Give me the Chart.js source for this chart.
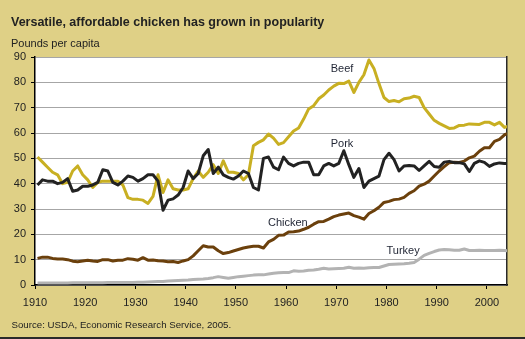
<!DOCTYPE html>
<html><head><meta charset="utf-8">
<script src="https://cdn.jsdelivr.net/npm/chart.js@4.4.0/dist/chart.umd.min.js"></script>
<style>html,body{margin:0;padding:0;background:#DFD086;}canvas{display:block}</style>
</head><body>
<canvas id="c" width="525" height="339"></canvas>
<script>
const years = [1910,1911,1912,1913,1914,1915,1916,1917,1918,1919,
1920,1921,1922,1923,1924,1925,1926,1927,1928,1929,
1930,1931,1932,1933,1934,1935,1936,1937,1938,1939,
1940,1941,1942,1943,1944,1945,1946,1947,1948,1949,
1950,1951,1952,1953,1954,1955,1956,1957,1958,1959,
1960,1961,1962,1963,1964,1965,1966,1967,1968,1969,
1970,1971,1972,1973,1974,1975,1976,1977,1978,1979,
1980,1981,1982,1983,1984,1985,1986,1987,1988,1989,
1990,1991,1992,1993,1994,1995,1996,1997,1998,1999,
2000,2001,2002,2003,2004];

const beef = [50.5,48.5,46.5,44.5,43.5,40,40.5,45,47,43.5,
41.5,38.5,40.5,41,41,41,41,39.5,34.5,33.8,
33.8,33.5,32.2,35,43.5,36.5,41.5,38,37.5,37.5,
38,42,45,42.5,44.5,47.5,44,49,44.5,44.5,
44,41.5,43.5,55,56.3,57.3,59.6,58,55.5,56.2,
58.5,60.8,62,65.5,69.5,70.8,73.5,75,77,78.5,
79.6,79.5,80.5,76,80,83,88.8,85.5,79.5,74,
72.4,72.8,72.3,73.5,73.8,74.5,74,70,67.5,65,
63.8,62.8,61.8,62,63,63.1,63.6,63.5,63.4,64.2,
64.2,63.2,64.2,62.2,62.8];

const pork = [39.5,41.5,41,41,40,40.5,42,37,37.5,39,
39,39.5,40.5,45.5,45,40.5,39.5,41,43,42.5,
41,42,43.5,43.5,41,29.5,33.5,34,35.5,38.5,
45,42,44,51,53.5,44,46.5,43.5,42.5,41.8,
43,45,44,38.5,37.5,50,50.5,46.5,45.5,50.5,
48,47,48,48.5,48.5,43.5,43.5,47,48,47,
48,53,47.5,42.5,46,38.5,41,42,43,49.5,
52,49.5,45,47,47.2,47,45.2,47,48.8,46.8,
46.5,48.5,48.8,48.3,48.3,47.8,44.8,48,49,48.4,
46.8,47.8,48.2,48,48];

const chicken = [10.5,11,11,10.5,10.3,10.3,10,9.4,9.2,9.5,
9.8,9.5,9.3,10,10,9.5,9.8,9.8,10.4,10.2,
9.8,10.8,9.8,9.9,9.6,9.5,9.2,9.3,8.9,9.5,
10,11.5,13.5,15.5,15,15,13.5,12.4,12.8,13.4,
14,14.6,15,15.3,15.3,14.6,17,18,19.6,19.7,
20.9,21,21.3,22,22.8,24,25,25.1,26,27,
27.6,28,28.4,27.4,26.8,26,28.2,29.3,30.7,32.6,
33,33.7,33.9,34.6,36.2,37.2,39,39.8,41,43,
45,46.7,48.3,48.5,48.4,48.9,50.2,50.9,52.8,54.2,
54.2,56.7,57.5,59.3,60];

const turkey = [0.8,0.8,0.8,0.8,0.8,0.8,0.8,0.9,0.9,0.9,
0.9,0.9,0.9,0.9,1.0,1.0,1.0,1.0,1.0,1.0,
1.1,1.1,1.2,1.3,1.4,1.4,1.6,1.7,1.8,1.9,
2.0,2.2,2.3,2.4,2.6,2.9,3.3,3.0,2.7,3.0,
3.3,3.5,3.7,3.9,4.0,4.0,4.3,4.6,4.8,4.9,
4.9,5.6,5.4,5.5,5.8,5.9,6.2,6.6,6.3,6.4,
6.5,6.6,7.0,6.6,6.7,6.6,6.8,6.9,6.9,7.5,
8.1,8.2,8.3,8.4,8.6,8.9,10.2,11.7,12.5,13.2,
13.8,14.0,13.9,13.7,13.7,14.2,13.6,13.6,13.7,13.6,
13.6,13.6,13.7,13.6,13.5];

const xTicks = [1910,1920,1930,1940,1950,1960,1970,1980,1990,2000];
const yTicks = [0,10,20,30,40,50,60,70,80,90];
const seriesNames = ['Pork','Chicken','Beef','Turkey'];
const titleText = 'Versatile, affordable chicken has grown in popularity';
const unitText = 'Pounds per capita';
const sourceText = 'Source: USDA, Economic Research Service, 2005.';

const FONT = "'Liberation Sans', Arial, Helvetica, sans-serif";
Chart.defaults.font.family = FONT;

// points are plotted at mid-year
const toPoints = vals => vals.map((v, i) => ({x: years[i] + 0.5, y: v}));

const colors = {Beef:'#C8AF22', Pork:'#222222', Chicken:'#6B400C', Turkey:'#B3B3B3'};
const seriesData = {Beef: beef, Pork: pork, Chicken: chicken, Turkey: turkey};
const labelAnchors = {Beef:[1968.9, 83.9], Pork:[1968.9, 54.3], Chicken:[1956.4, 23.4], Turkey:[1980.0, 12.2]};

const bgPlugin = {
  id: 'bg',
  beforeDraw(chart) {
    const {ctx, chartArea: a} = chart;
    ctx.save();
    ctx.fillStyle = '#DFD086';
    ctx.fillRect(0, 0, chart.width, chart.height);
    ctx.fillStyle = '#ffffff';
    ctx.fillRect(a.left, a.top, a.right - a.left, a.bottom - a.top);
    ctx.restore();
  }
};

const textPlugin = {
  id: 'texts',
  afterDatasetsDraw(chart) {
    const {ctx, scales} = chart;
    ctx.save();
    ctx.textAlign = 'left';
    ctx.textBaseline = 'alphabetic';
    ctx.fillStyle = '#1f2433';
    ctx.font = '11px ' + FONT;
    seriesNames.forEach(n => {
      const [lx, ly] = labelAnchors[n];
      ctx.fillText(n, scales.x.getPixelForValue(lx), scales.y.getPixelForValue(ly));
    });
    ctx.restore();
  },
  afterDraw(chart) {
    const {ctx} = chart;
    ctx.save();
    ctx.textAlign = 'left';
    ctx.textBaseline = 'alphabetic';
    ctx.fillStyle = '#222222';
    ctx.font = 'bold 12.5px ' + FONT;
    ctx.fillText(titleText, 11, 26);
    ctx.font = '11px ' + FONT;
    ctx.fillText(unitText, 11, 46.5);
    ctx.font = '9.7px ' + FONT;
    ctx.fillText(sourceText, 11.5, 328);
    ctx.fillStyle = '#2a2a2a';
    ctx.fillRect(0, 337, chart.width, 2);
    ctx.restore();
  }
};

new Chart(document.getElementById('c'), {
  type: 'line',
  data: {
    datasets: seriesNames.map(n => ({
      label: n,
      data: toPoints(seriesData[n]),
      borderColor: colors[n],
      backgroundColor: colors[n],
      borderWidth: 3,
      pointRadius: 0,
      tension: 0,
      fill: false,
      borderJoinStyle: 'round'
    }))
  },
  options: {
    responsive: false,
    animation: false,
    events: [],
    devicePixelRatio: 1,
    layout: {padding: {top: 57, left: 0, right: 0, bottom: 0}},
    plugins: {legend: {display: false}, tooltip: {enabled: false}, title: {display: false}},
    scales: {
      x: {
        type: 'linear', min: 1910, max: 2004,
        afterBuildTicks: s => { s.ticks = xTicks.map(v => ({value: v})); },
        afterFit: s => { s.height = 54; },
        ticks: {callback: v => String(v), color: '#222', font: {size: 11}, padding: 7, maxRotation: 0, autoSkip: false},
        grid: {drawOnChartArea: false, drawTicks: true, tickLength: 4, tickColor: '#000', tickWidth: 1},
        border: {color: '#000', width: 1.5}
      },
      y: {
        min: 0, max: 90,
        afterBuildTicks: s => { s.ticks = yTicks.map(v => ({value: v})); },
        afterFit: s => { s.width = 35; },
        ticks: {color: '#222', font: {size: 11}, padding: 5},
        grid: {color: '#a6a6a6', lineWidth: 1, drawTicks: true, tickLength: 4, tickColor: '#000', tickWidth: 1},
        border: {color: '#000', width: 1.5}
      },
      y2: {
        position: 'right', min: 0, max: 90,
        afterFit: s => { s.width = 18; },
        ticks: {display: false},
        grid: {display: false},
        border: {color: '#2a2a2a', width: 1.5}
      }
    }
  },
  plugins: [bgPlugin, textPlugin]
});
</script>
</body></html>
